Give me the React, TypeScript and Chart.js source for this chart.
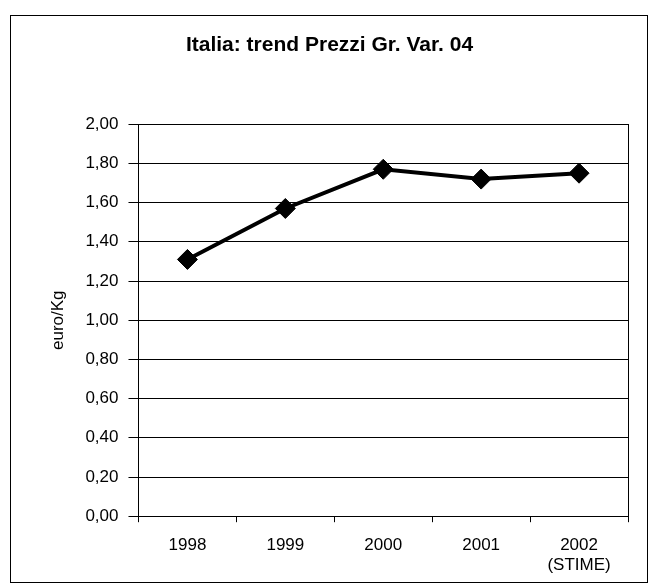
import React, { useEffect, useRef } from "react";
import { Chart, registerables } from "chart.js";

Chart.register(...registerables);

const titleText = "Italia: trend Prezzi Gr. Var. 04";
const yAxisTitle = "euro/Kg";
const categories: (string | string[])[] = ["1998", "1999", "2000", "2001", ["2002", "(STIME)"]];
const prices = [1.31, 1.57, 1.77, 1.72, 1.75];
const yMin = 0;
const yMax = 2;
const yStep = 0.2;

const FONT = "'Liberation Sans', Arial, sans-serif";

const plotBorder = {
  id: "plotBorder",
  afterDraw(chart: any) {
    const { ctx, chartArea } = chart;
    ctx.save();
    ctx.strokeStyle = "#000";
    ctx.lineWidth = 1;
    ctx.strokeRect(
      Math.round(chartArea.left) + 0.5,
      Math.round(chartArea.top) + 0.5,
      Math.round(chartArea.right - chartArea.left),
      Math.round(chartArea.bottom - chartArea.top)
    );
    ctx.restore();
  },
};

export default function App() {
  const ref = useRef<HTMLCanvasElement | null>(null);
  useEffect(() => {
    if (!ref.current) return;
    const chart = new Chart(ref.current, {
      type: "line",
      data: {
        labels: categories,
        datasets: [
          {
            data: prices,
            borderColor: "#000",
            backgroundColor: "#000",
            borderWidth: 4,
            pointStyle: "rectRot",
            pointRadius: 10,
            pointBackgroundColor: "#000",
            pointBorderColor: "#000",
            pointBorderWidth: 1,
            tension: 0,
          },
        ],
      },
      options: {
        responsive: false,
        animation: false,
        events: [],
        layout: { padding: { left: 20, right: 19, top: 0, bottom: 0 } },
        plugins: {
          legend: { display: false },
          tooltip: { enabled: false },
          title: {
            display: true,
            text: titleText,
            color: "#000",
            font: { family: FONT, size: 21, weight: "bold" },
            padding: { top: 17, bottom: 66 },
          },
        },
        scales: {
          x: {
            offset: true,
            grid: {
              display: true,
              offset: true,
              drawOnChartArea: false,
              drawTicks: true,
              tickLength: 6,
              color: "#000",
            },
            border: { display: true, color: "#000", width: 1 },
            ticks: {
              color: "#000",
              padding: 13,
              maxRotation: 0,
              autoSkip: false,
              font: { family: FONT, size: 17 },
            },
          },
          y: {
            min: yMin,
            max: yMax,
            grid: {
              display: true,
              color: "#000",
              lineWidth: 1,
              drawTicks: true,
              tickLength: 10,
            },
            border: { display: true, color: "#000", width: 1 },
            ticks: {
              stepSize: yStep,
              color: "#000",
              padding: 10,
              font: { family: FONT, size: 17 },
              callback: (v: any) => Number(v).toFixed(2).replace(".", ","),
            },
            title: {
              display: true,
              text: yAxisTitle,
              color: "#000",
              font: { family: FONT, size: 17 },
              padding: { top: 17, bottom: 7 },
            },
          },
        },
      },
      plugins: [plotBorder],
    });
    return () => chart.destroy();
  }, []);

  return (
    <div
      style={{
        position: "absolute",
        left: 10,
        top: 15,
        width: 636,
        height: 566,
        border: "1px solid #000",
        background: "#fff",
      }}
    >
      <canvas ref={ref} width={636} height={573} style={{ display: "block" }} />
    </div>
  );
}
